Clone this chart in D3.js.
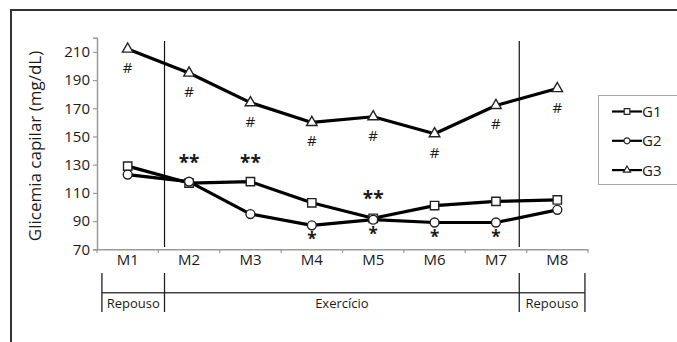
<!DOCTYPE html>
<html lang="pt">
<head>
    <meta charset="utf-8">
    <script src="https://d3js.org/d3.v7.min.js"></script>
    <style>
        html, body { margin: 0; padding: 0; background: #fff; overflow: hidden; }
        svg { display: block; }
        text { font-family: "Open Sans", "Noto Sans", sans-serif; fill: #1a1a1a; }
    </style>
</head>
<body>
<script type="text/javascript">

    let w = 677;
    let h = 342;

    // data
    let moments = ["M1", "M2", "M3", "M4", "M5", "M6", "M7", "M8"];
    let g1 = [129, 117, 118, 103, 92, 101, 104, 105];
    let g2 = [123, 118, 95, 87, 91, 89, 89, 98];
    let g3 = [212, 195, 174, 160, 164, 152, 172, 184];
    let yTicks = [70, 90, 110, 130, 150, 170, 190, 210];
    let groupNames = ["G1", "G2", "G3"];

    // significance marks
    let hashMoments = ["M1", "M2", "M3", "M4", "M5", "M6", "M7", "M8"];
    let doubleStar = [["M2", 134], ["M3", 134], ["M5", 108.5]];
    let singleStar = ["M4", "M5", "M6", "M7"];

    // phases (in category units along the x axis)
    let phases = [
        {label: "Repouso", from: 0.08, to: 1.1},
        {label: "Exercício", from: 1.1, to: 6.88},
        {label: "Repouso", from: 6.88, to: 7.95}
    ];
    let dividers = [1.1, 6.88];

    let svg = d3.select("body").append("svg")
        .attr("width", w)
        .attr("height", h);

    // outer frame: only top and left edges are in the picture
    svg.append("path")
        .attr("d", "M11," + h + "V10H" + w)
        .attr("fill", "none")
        .attr("stroke", "#333")
        .attr("stroke-width", 2);

    let x = d3.scaleBand().domain(moments).range([97, 588]).padding(0);
    let y = d3.scaleLinear().domain([70, 220]).range([249.3, 37.8]);
    let cx = function (m) { return x(m) + x.bandwidth() / 2; };
    let xu = function (u) { return x.range()[0] + u * x.step(); };

    // y axis
    let yAxis = svg.append("g")
        .attr("transform", "translate(97,0)")
        .call(d3.axisLeft(y).tickValues(yTicks).tickSize(4).tickPadding(3));
    yAxis.select(".domain").attr("stroke", "#9a9a9a").attr("stroke-width", 1.5);
    yAxis.selectAll(".tick line").attr("stroke", "#9a9a9a").attr("stroke-width", 1.2);
    yAxis.selectAll(".tick text")
        .style("font-size", "15px")
        .style("font-family", "'Open Sans', sans-serif")
        .attr("fill", "#1a1a1a");

    // x axis
    let xAxis = svg.append("g")
        .attr("transform", "translate(0,249.3)")
        .call(d3.axisBottom(x).tickSize(0).tickPadding(5));
    xAxis.select(".domain").attr("stroke", "#9a9a9a").attr("stroke-width", 1.5);
    xAxis.selectAll(".tick text")
        .style("font-size", "15px")
        .style("font-family", "'Open Sans', sans-serif")
        .attr("fill", "#1a1a1a");

    // boundary ticks
    svg.selectAll(".bound")
        .data(d3.range(moments.length + 1))
        .join("line")
            .attr("class", "bound")
            .attr("x1", function (d) { return xu(d); })
            .attr("x2", function (d) { return xu(d); })
            .attr("y1", 249.3)
            .attr("y2", 253)
            .attr("stroke", "#9a9a9a")
            .attr("stroke-width", 1.2);

    // y axis title
    svg.append("text")
        .attr("transform", "translate(41,146) rotate(-90)")
        .attr("text-anchor", "middle")
        .style("font-size", "17px")
        .text("Glicemia capilar (mg/dL)");

    // phase dividers
    svg.selectAll(".divider")
        .data(dividers)
        .join("line")
            .attr("class", "divider")
            .attr("x1", function (d) { return xu(d); })
            .attr("x2", function (d) { return xu(d); })
            .attr("y1", 41)
            .attr("y2", 247)
            .attr("stroke", "#111")
            .attr("stroke-width", 1.2);

    // phase brackets
    let br = svg.append("g");
    br.append("line")
        .attr("x1", xu(phases[0].from)).attr("x2", xu(phases[2].to))
        .attr("y1", 292.7).attr("y2", 292.7)
        .attr("stroke", "#444").attr("stroke-width", 1.5);
    let edges = [phases[0].from, phases[0].to, phases[1].to, phases[2].to];
    br.selectAll(".edge")
        .data(edges)
        .join("line")
            .attr("class", "edge")
            .attr("x1", function (d) { return xu(d); })
            .attr("x2", function (d) { return xu(d); })
            .attr("y1", 273).attr("y2", 312)
            .attr("stroke", "#222").attr("stroke-width", 1.3);
    br.selectAll(".phase")
        .data(phases)
        .join("text")
            .attr("class", "phase")
            .attr("x", function (d) { return (xu(d.from) + xu(d.to)) / 2; })
            .attr("y", 308)
            .attr("text-anchor", "middle")
            .style("font-size", "13px")
            .text(function (d) { return d.label; });

    // series
    let series = [
        {name: "G1", values: g1, shape: d3.symbolSquare, size: 70},
        {name: "G2", values: g2, shape: d3.symbolCircle, size: 62},
        {name: "G3", values: g3, shape: d3.symbolTriangle, size: 48}
    ];

    let line = d3.line()
        .x(function (d, i) { return cx(moments[i]); })
        .y(function (d) { return y(d); });

    series.forEach(function (s) {
        svg.append("path")
            .datum(s.values)
            .attr("d", line)
            .attr("fill", "none")
            .attr("stroke", "#000")
            .attr("stroke-width", 3.2)
            .attr("stroke-linejoin", "round");
    });

    series.forEach(function (s) {
        svg.selectAll(".pt-" + s.name)
            .data(s.values)
            .join("path")
                .attr("class", "pt-" + s.name)
                .attr("d", d3.symbol().type(s.shape).size(s.size))
                .attr("transform", function (d, i) {
                    return "translate(" + cx(moments[i]) + "," + y(d) + ")";
                })
                .attr("fill", "#fff")
                .attr("stroke", "#222")
                .attr("stroke-width", 1.4);
    });

    // annotations
    svg.selectAll(".hash")
        .data(hashMoments)
        .join("text")
            .attr("class", "hash")
            .attr("x", function (d) { return cx(d); })
            .attr("y", function (d) { return y(g3[moments.indexOf(d)]) + 24; })
            .attr("text-anchor", "middle")
            .style("font-size", "15px")
            .text("#");

    svg.selectAll(".dstar")
        .data(doubleStar)
        .join("text")
            .attr("class", "dstar")
            .attr("x", function (d) { return cx(d[0]); })
            .attr("y", function (d) { return y(d[1]) + 10; })
            .attr("text-anchor", "middle")
            .style("font-size", "19px")
            .style("font-weight", "bold")
            .text("**");

    svg.selectAll(".sstar")
        .data(singleStar)
        .join("text")
            .attr("class", "sstar")
            .attr("x", function (d) { return cx(d); })
            .attr("y", function (d) { return y(g2[moments.indexOf(d)]) + 20; })
            .attr("text-anchor", "middle")
            .style("font-size", "17px")
            .style("font-weight", "bold")
            .text("*");

    // legend
    let lg = svg.append("g");
    lg.append("rect")
        .attr("x", 598.5).attr("y", 95.5)
        .attr("width", 90).attr("height", 89)
        .attr("fill", "#fff")
        .attr("stroke", "#aaa")
        .attr("stroke-width", 1);
    let items = lg.selectAll(".item")
        .data(series)
        .join("g")
            .attr("class", "item")
            .attr("transform", function (d, i) { return "translate(0," + (111.5 + i * 29.3) + ")"; });
    items.append("line")
        .attr("x1", 612).attr("x2", 642)
        .attr("stroke", "#000").attr("stroke-width", 2.2);
    items.append("path")
        .attr("d", function (d) { return d3.symbol().type(d.shape).size(d.size * 0.45)(); })
        .attr("transform", "translate(627,0)")
        .attr("fill", "#fff")
        .attr("stroke", "#222")
        .attr("stroke-width", 1.2);
    items.append("text")
        .attr("x", 642)
        .attr("y", 5.5)
        .style("font-size", "15px")
        .text(function (d) { return d.name; });

</script>
</body>
</html>
